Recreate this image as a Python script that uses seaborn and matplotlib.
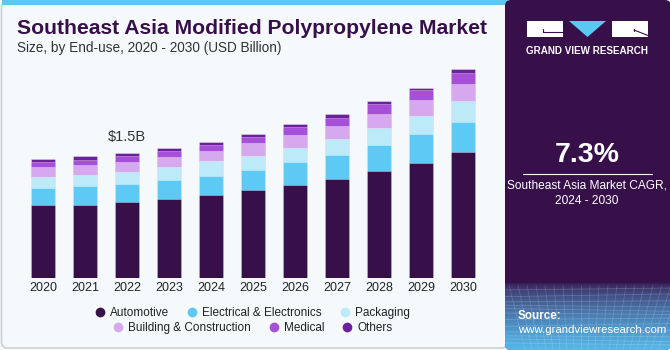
import matplotlib
matplotlib.use("Agg")
import matplotlib.pyplot as plt
import seaborn as sns
import pandas as pd
import numpy as np
from matplotlib.patches import FancyBboxPatch, Rectangle, Polygon
from matplotlib.lines import Line2D

years = ["2020", "2021", "2022", "2023", "2024", "2025", "2026", "2027", "2028", "2029", "2030"]
automotive = [0.88, 0.89, 0.92, 0.96, 1.00, 1.06, 1.13, 1.20, 1.29, 1.39, 1.52]
electrical = [0.21, 0.22, 0.22, 0.23, 0.24, 0.25, 0.27, 0.29, 0.32, 0.35, 0.37]
packaging = [0.13, 0.14, 0.14, 0.15, 0.17, 0.17, 0.17, 0.19, 0.20, 0.22, 0.25]
building = [0.12, 0.12, 0.12, 0.12, 0.13, 0.15, 0.16, 0.16, 0.17, 0.19, 0.21]
medical = [0.06, 0.06, 0.07, 0.08, 0.07, 0.07, 0.09, 0.10, 0.12, 0.12, 0.13]
others = [0.04, 0.04, 0.04, 0.03, 0.04, 0.04, 0.04, 0.04, 0.04, 0.03, 0.04]

segments = ["Automotive", "Electrical & Electronics", "Packaging",
            "Building & Construction", "Medical", "Others"]
colors = ["#37104A", "#5CCAF5", "#BDEAF9", "#D6A9EE", "#A64FD8", "#6B209C"]
annot_year = "2022"
annot_text = "$1.5B"
cagr_text = "7.3%"

sns.set_theme(style="white")
plt.rcParams["font.family"] = ["Liberation Sans", "DejaVu Sans"]

BG = "#F5F9FC"
fig = plt.figure(figsize=(6.7, 3.5), dpi=100)
fig.patch.set_facecolor(BG)

# decoration layer in pixel coordinates
deco = fig.add_axes([0, 0, 1, 1], zorder=0)
deco.set_xlim(0, 670)
deco.set_ylim(350, 0)
deco.axis("off")
deco.add_patch(FancyBboxPatch((1.5, 2), 506, 346, boxstyle="round,pad=0,rounding_size=6",
                              fc=BG, ec="#CFCFCF", lw=1.2))
deco.add_patch(Rectangle((1.5, 0), 506, 5, fc="#5BC8EE", ec="none"))

# right panel
panel = FancyBboxPatch((505, 0), 166, 350, boxstyle="round,pad=0,rounding_size=6",
                       fc="#371049", ec="none")
deco.add_patch(panel)
grad = np.linspace(0, 1, 100)[:, None] ** 0.6
c0 = np.array([0x37, 0x10, 0x49]) / 255
c1 = np.array([0x55, 0xB8, 0xEA]) / 255
img = (c0[None, None, :] * (1 - grad[..., None]) + c1[None, None, :] * grad[..., None])
img = np.repeat(img, 2, axis=1)
im = deco.imshow(img, extent=[505, 671, 350, 282], aspect="auto", zorder=1)
im.set_clip_path(panel)
deco.set_xlim(0, 670)
deco.set_ylim(350, 0)
# faint mesh
for k in range(12):
    yy = 290 + k * 5
    l = Line2D([505, 671], [yy + 2 * np.sin(k), yy - 2 * np.cos(k)], color="white", alpha=0.18, lw=0.6, zorder=2)
    deco.add_line(l)
for k in range(20):
    xx = 505 + k * 9
    l = Line2D([xx + 4, xx - (k - 10) * 2], [285, 350], color="white", alpha=0.15, lw=0.6, zorder=2)
    deco.add_line(l)

# logo
deco.add_patch(Rectangle((527, 21), 36, 16, fc="white", ec="none", zorder=3))
deco.add_line(Line2D([543, 563], [32, 32], color="#371049", lw=0.8, zorder=4))
deco.add_line(Line2D([543, 543], [29, 32], color="#371049", lw=0.8, zorder=4))
deco.add_patch(Polygon([[569, 21], [606, 21], [587.5, 37]], fc="#5BC8F2", ec="none", zorder=3))
deco.add_patch(Rectangle((612, 21), 36, 16, fc="white", ec="none", zorder=3))
deco.add_line(Line2D([634, 648], [30, 35.5], color="#371049", lw=0.8, zorder=4))
deco.add_line(Line2D([634, 634], [29, 31], color="#371049", lw=0.8, zorder=4))
deco.text(587.5, 50.5, "GRAND VIEW RESEARCH", color="white", fontsize=7.1, fontweight="bold",
          ha="center", va="center", zorder=4)

deco.text(587, 155, cagr_text, color="white", fontsize=20.5, fontweight="bold",
          ha="center", va="center", zorder=4)
deco.add_line(Line2D([523, 652], [173.5, 173.5], color="white", lw=0.8, zorder=4))
deco.text(587, 186, "Southeast Asia Market CAGR,", color="white", fontsize=8.6,
          ha="center", va="center", zorder=4)
deco.text(587, 201, "2024 - 2030", color="white", fontsize=8.6,
          ha="center", va="center", zorder=4)
deco.text(518, 316, "Source:", color="white", fontsize=8.4, fontweight="bold",
          ha="left", va="center", zorder=4)
deco.text(518, 330, "www.grandviewresearch.com", color="white", fontsize=8.2,
          ha="left", va="center", zorder=4)

# titles
deco.text(17, 28, "Southeast Asia Modified Polypropylene Market", color="#37104A",
          fontsize=15.2, fontweight="bold", ha="left", va="center", zorder=4)
deco.text(17, 48, "Size, by End-use, 2020 - 2030 (USD Billion)", color="#333333",
          fontsize=9.8, ha="left", va="center", zorder=4)

# main chart
ax = fig.add_axes([22 / 670, (350 - 278.3) / 350, 462 / 670, 215.5 / 350], zorder=2)
ax.patch.set_alpha(0)

df = pd.DataFrame({"Year": years, "Automotive": automotive,
                   "Electrical & Electronics": electrical, "Packaging": packaging,
                   "Building & Construction": building, "Medical": medical, "Others": others})
cum = df[segments].cumsum(axis=1)
for seg, col in zip(segments[::-1], colors[::-1]):
    sns.barplot(data=cum.assign(Year=df["Year"]), x="Year", y=seg, order=years,
                color=col, width=0.58, ax=ax, saturation=1,
                edgecolor=(1, 1, 1, 0.45), linewidth=0.5)

ax.set_xlim(-0.5, 10.5)
ax.set_ylim(0, 2.6)
ax.set_xlabel("")
ax.set_ylabel("")
ax.set_yticks([])
for s in ax.spines.values():
    s.set_visible(False)
ax.tick_params(axis="x", length=0, pad=3, labelsize=9, colors="#222222")

ai = years.index(annot_year)
tot = cum["Others"].iloc[ai]
ax.text(ai, tot + 0.2, annot_text, ha="center", va="center", fontsize=10.5, color="#333333")

# legends
def handle(c):
    return Line2D([], [], marker="o", ls="none", markersize=7, markerfacecolor=c,
                  markeredgecolor="none")

for rows, yy in [((0, 1, 2), 313), ((3, 4, 5), 328)]:
    leg = fig.legend([handle(colors[i]) for i in rows], [segments[i] for i in rows],
                     loc="center", bbox_to_anchor=(253 / 670, (350 - yy) / 350), ncol=3,
                     frameon=False, fontsize=8.5, handlelength=0.7, handletextpad=0.5,
                     columnspacing=1.6, borderpad=0, borderaxespad=0)
    for t in leg.get_texts():
        t.set_color("#222222")

fig.savefig("out.png", dpi=100, facecolor=BG)
